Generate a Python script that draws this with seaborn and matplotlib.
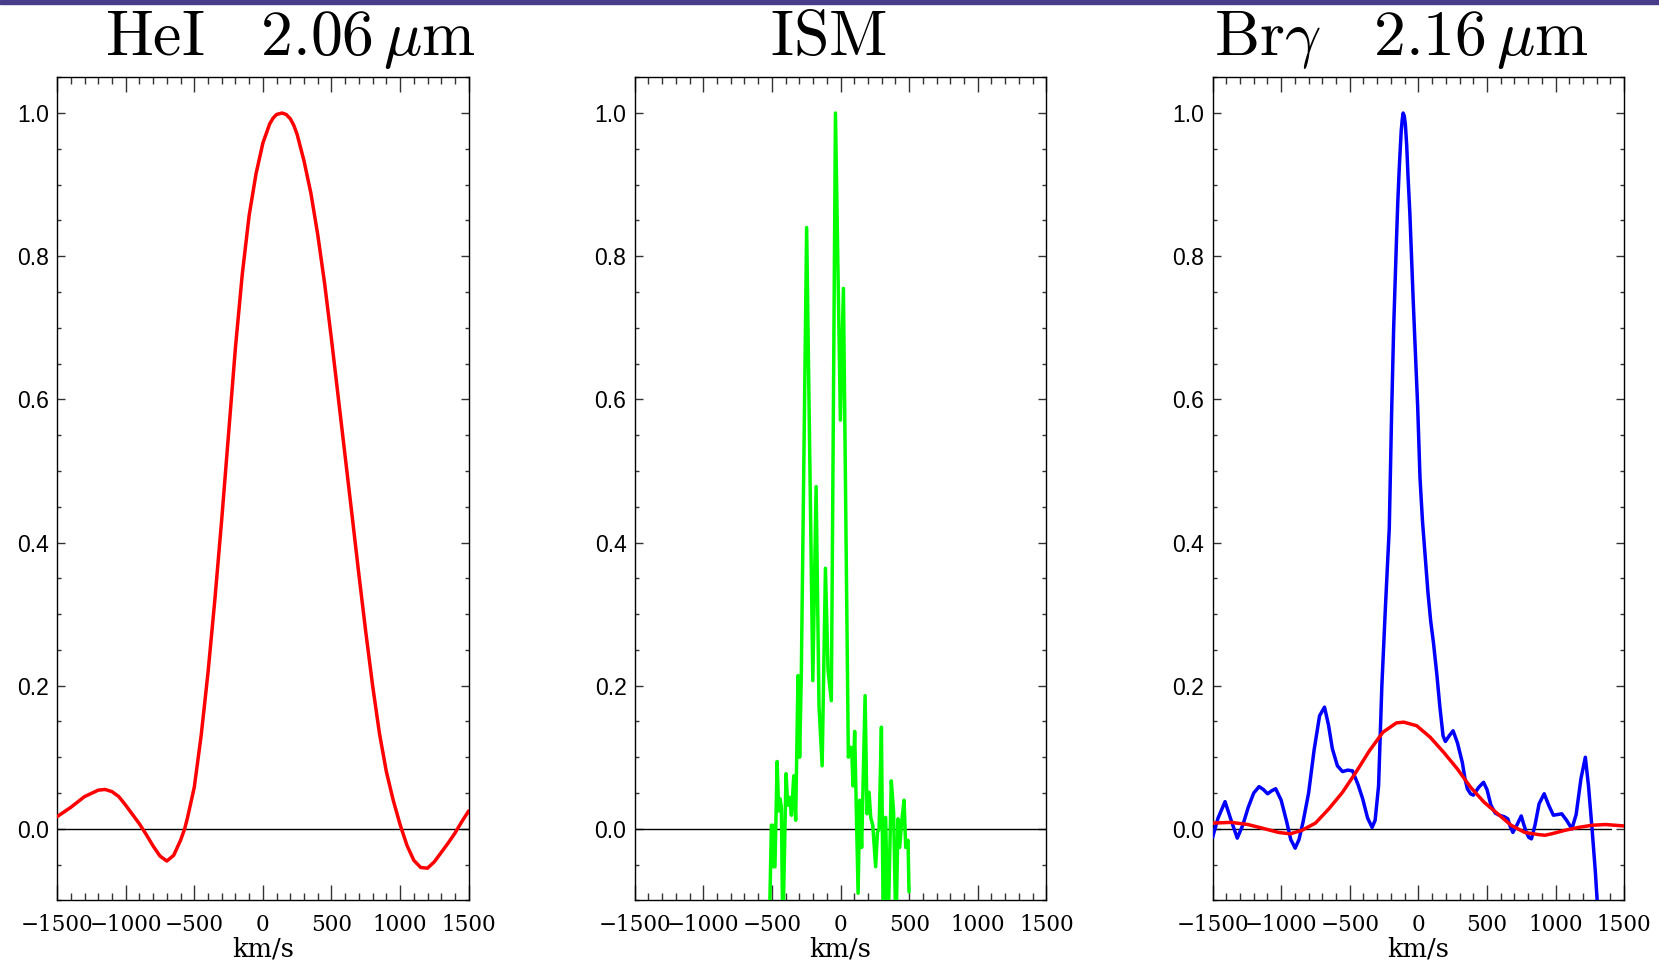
import numpy as np
import pandas as pd
import matplotlib
matplotlib.use("Agg")
import matplotlib.pyplot as plt
from matplotlib.ticker import MultipleLocator, FormatStrFormatter
from matplotlib.patches import Rectangle
import seaborn as sns

# ---------------- data ----------------
hei_v = [-1500, -1400, -1300, -1200, -1150, -1100, -1050, -1000, -950, -900, -850, -800,
         -750, -700, -650, -600, -570, -550, -500, -450, -400, -350, -300, -250, -200,
         -150, -100, -50, 0, 50, 75, 100, 140, 170, 200, 225, 250, 300, 350, 400, 450, 500, 550, 600,
         650, 700, 750, 800, 850, 900, 950, 1000, 1050, 1100, 1150, 1200, 1250, 1300,
         1350, 1400, 1450, 1500]
hei_f = [0.017, 0.030, 0.045, 0.054, 0.055, 0.052, 0.045, 0.033, 0.020, 0.007, -0.008, -0.024,
         -0.038, -0.045, -0.037, -0.016, 0.0, 0.015, 0.058, 0.130, 0.218, 0.320, 0.432, 0.552, 0.672,
         0.775, 0.857, 0.915, 0.958, 0.985, 0.993, 0.998, 1.000, 0.998, 0.992, 0.983, 0.970, 0.933,
         0.888, 0.830, 0.762, 0.684, 0.602, 0.520, 0.438, 0.355, 0.275, 0.200, 0.133, 0.080, 0.040,
         0.006, -0.023, -0.044, -0.054, -0.055, -0.046, -0.033, -0.020, -0.006, 0.010, 0.025]

ism_v = [-520, -504, -494, -490, -478, -462, -451, -441, -431, -421, -397, -385, -370, -358,
         -341, -327, -310, -298, -286, -247, -202, -178, -157, -134, -110, -91, -67, -37, -1,
         21, 57, 72, 81, 91, 103, 128, 140, 154, 179, 193, 208, 220, 235, 256, 269, 281, 298,
         312, 329, 346, 370, 387, 404, 419, 431, 448, 463, 475, 492, 499]
ism_f = [-0.15, 0.005, 0.005, -0.053, -0.053, 0.094, 0.025, 0.042, 0.030, -0.15, 0.077, 0.033,
         0.044, 0.019, 0.074, 0.012, 0.214, 0.100, 0.214, 0.840, 0.207, 0.478, 0.172, 0.088,
         0.364, 0.221, 0.179, 1.000, 0.571, 0.755, 0.100, 0.114, 0.113, 0.060, 0.136, -0.090,
         0.040, -0.026, 0.186, 0.021, 0.051, 0.016, 0.005, -0.053, -0.005, 0.000, 0.142, -0.15,
         0.016, -0.15, 0.067, 0.023, -0.15, 0.014, -0.026, 0.014, 0.040, -0.026, -0.016, -0.088]

bry_v = [-1500, -1460, -1409, -1370, -1320, -1280, -1240, -1200, -1161, -1130, -1099, -1070,
         -1040, -1000, -960, -930, -898, -870, -840, -800, -760, -720, -684, -655, -627, -590,
         -553, -515, -480, -440, -406, -370, -337, -315, -290, -266, -240, -212, -195, -180,
         -160, -150, -140, -132, -125, -118, -111, -103, -95, -85, -75, -62, -50, -38, -25, -5,
         12, 30, 50, 70, 90, 110, 135, 157,
         180, 197, 225, 253, 285, 320, 340, 357, 380, 401, 440, 475, 500, 529, 560, 590, 625,
         652, 670, 689, 720, 750, 770, 787, 805, 824, 850, 880, 917, 950, 984, 1015, 1045,
         1080, 1119, 1150, 1185, 1217, 1240, 1266, 1290, 1303, 1315]
bry_f = [-0.012, 0.015, 0.038, 0.015, -0.013, 0.005, 0.030, 0.050, 0.059, 0.055, 0.049, 0.053,
         0.056, 0.040, 0.010, -0.015, -0.027, -0.015, 0.010, 0.050, 0.110, 0.158, 0.170, 0.145,
         0.112, 0.088, 0.080, 0.082, 0.081, 0.062, 0.042, 0.015, 0.002, 0.012, 0.060, 0.200,
         0.310, 0.420, 0.580, 0.700, 0.820, 0.875, 0.920, 0.950, 0.975, 0.990, 1.000, 0.996,
         0.985, 0.955, 0.910, 0.860, 0.800, 0.740, 0.680,
         0.590, 0.490, 0.430, 0.380, 0.330, 0.290, 0.260, 0.215, 0.170, 0.130, 0.122, 0.130,
         0.137, 0.120, 0.093, 0.070, 0.056, 0.049, 0.047, 0.058, 0.065, 0.055, 0.033, 0.022,
         0.019, 0.017, 0.014, 0.003, -0.005, 0.006, 0.018, 0.005, -0.005, -0.012, -0.014, 0.005,
         0.035, 0.049, 0.033, 0.019, 0.020, 0.021, 0.012, 0.000, 0.020, 0.070, 0.100, 0.060,
         0.000, -0.060, -0.100, -0.140]

brr_v = [-1500, -1365, -1242, -1119, -1020, -934, -848, -750, -652, -553, -455, -357, -258,
         -160, -106, -12, 86, 184, 283, 381, 480, 578, 676, 775, 873, 922, 971, 1070, 1168,
         1266, 1365, 1500]
brr_f = [0.008, 0.009, 0.006, 0.000, -0.005, -0.007, -0.002, 0.008, 0.028, 0.051, 0.079, 0.109,
         0.135, 0.148, 0.149, 0.144, 0.128, 0.107, 0.084, 0.058, 0.037, 0.021, 0.005, -0.005,
         -0.008, -0.009, -0.007, -0.002, 0.002, 0.005, 0.006, 0.004]

titles = [r"$\mathrm{HeI}\quad\mathrm{2.06}\,\mu\mathrm{m}$", r"$\mathrm{ISM}$",
          r"$\mathrm{Br}\gamma\quad\mathrm{2.16}\,\mu\mathrm{m}$"]
x_ticks = [-1500, -1000, -500, 0, 500, 1000, 1500]
y_ticks = [0.0, 0.2, 0.4, 0.6, 0.8, 1.0]
xlabel = "km/s"

# ---------------- style ----------------
sns.set_theme(style="white")
plt.rcParams["font.family"] = ["Liberation Sans", "DejaVu Sans"]
plt.rcParams["mathtext.fontset"] = "cm"
plt.rcParams["axes.unicode_minus"] = True

fig = plt.figure(figsize=(16.59, 9.63), dpi=100)
fig.patch.set_facecolor("white")
fig.patches.append(Rectangle((0, 0.9958), 1, 0.0042, transform=fig.transFigure,
                             color="#483d8b", zorder=10))

lefts = [0.0344, 0.3826, 0.7309]
bottom, width, height = 0.0650, 0.2481, 0.8548
title_x = [0.1748, 0.4994, 0.8445]

axes = [fig.add_axes([l, bottom, width, height]) for l in lefts]

series = [
    [(hei_v, hei_f, "#ff0000")],
    [(ism_v, ism_f, "#00ff00")],
    [(bry_v, bry_f, "#0000ff"), (brr_v, brr_f, "#ff0000")],
]
zero_xmax = [1.0, 1.0, 0.967]

for i, ax in enumerate(axes):
    ax.set_facecolor("white")
    ax.axhline(0, xmin=0, xmax=zero_xmax[i], color="black", lw=1.0, zorder=1)
    for v, f, c in series[i]:
        df = pd.DataFrame({"v": v, "f": f})
        sns.lineplot(data=df, x="v", y="f", ax=ax, color=c, lw=2.5,
                     estimator=None, sort=False, zorder=3)
    ax.set_xlim(-1500, 1500)
    ax.set_ylim(-0.1, 1.05)
    ax.set_xticks(x_ticks)
    ax.set_yticks(y_ticks)
    ax.xaxis.set_minor_locator(MultipleLocator(100))
    ax.yaxis.set_minor_locator(MultipleLocator(0.05))
    ax.yaxis.set_major_formatter(FormatStrFormatter("%.1f"))
    ax.tick_params(axis="x", which="major", direction="in", length=11, width=1,
                   top=True, bottom=True, color="#333333", pad=10,
                   labelsize=15.5, labelfontfamily="DejaVu Serif", labelcolor="black")
    ax.tick_params(axis="x", which="minor", direction="in", length=5, width=1,
                   top=True, bottom=True, color="#333333")
    ax.tick_params(axis="y", which="major", direction="in", length=5.5, width=1,
                   left=True, right=True, color="#333333", pad=6,
                   labelsize=16.5, labelfontfamily="Liberation Sans", labelcolor="black")
    ax.tick_params(axis="y", which="minor", direction="in", length=3, width=1,
                   left=True, right=True, color="#333333")
    for s in ax.spines.values():
        s.set_color("black")
        s.set_linewidth(1.0)
        s.set_visible(True)
    ax.set_xlabel(xlabel, fontfamily="DejaVu Serif", fontsize=18.5, labelpad=0, color="black")
    ax.set_ylabel("")
    fig.text(title_x[i], 0.943, titles[i], ha="center", va="baseline",
             fontsize=46, color="black")

fig.savefig("out.png", dpi=100, facecolor="white")
